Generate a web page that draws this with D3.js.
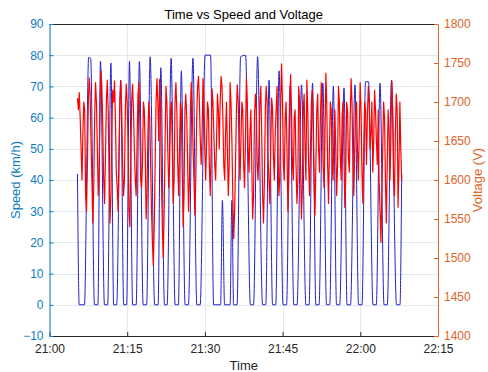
<!DOCTYPE html>
<html>
<head>
<meta charset="utf-8">
<script src="https://cdn.jsdelivr.net/npm/d3@7"></script>
<style>
  body { margin: 0; background: #fff; }
  svg { display: block; font-family: "Liberation Sans", Arial, sans-serif; }
</style>
</head>
<body>
<div id="chart"></div>
<script>
// speed key points: minutes after 21:00 and km/h
const speedMinutes = [
  5.40, 5.73, 6.75, 7.56, 7.95, 8.68, 9.34, 9.84, 10.61, 11.23, 11.85, 12.39,
  12.97, 13.74, 14.32, 14.89, 15.44, 16.05, 16.73, 17.36, 18.08, 18.75, 19.43,
  20.30, 20.97, 21.49, 22.19, 22.71, 23.48, 24.25, 24.89, 25.45, 26.18, 26.82,
  27.69, 28.44, 29.08, 30.04, 31.10, 31.68, 33.03, 33.38, 33.80, 34.86, 35.21,
  35.54, 36.21, 36.89, 37.85, 38.78, 39.40, 40.17, 41.13, 41.75, 42.39, 43.06,
  43.68, 44.32, 45.09, 45.77, 46.44, 47.16, 47.79, 48.66, 49.49, 50.11, 50.78,
  51.42, 52.04, 52.77, 53.48, 54.10, 54.80, 55.41, 56.03, 56.86, 57.44, 58.11,
  58.98, 59.66, 60.33, 61.01, 61.59, 62.45, 63.09, 63.81, 64.58, 65.21, 66.02,
  66.99, 67.66, 67.99
];
const speedKmh = [
  42, 0, 0, 79.3, 79, 0, 0, 78, 0, 0, 77.5, 0,
  0, 72, 0, 0, 78, 0, 0, 78, 0, 0, 79.5,
  0, 0, 76, 0, 0, 79, 0, 0, 75, 0, 0,
  79, 0, 0, 80, 80, 0, 0, 33.5, 0, 0, 33.5,
  0, 0, 79.5, 80, 0, 0, 79.5, 0, 0, 72, 0,
  0, 75, 0, 0, 70, 0, 0, 70.5, 0, 0, 71,
  0, 0, 71, 0, 0, 70, 0, 0, 69.5, 0, 0,
  70.5, 0, 0, 71.5, 71.5, 0, 0, 71, 0, 0, 72,
  0, 0, 42
];

// voltage samples, evenly spaced between voltStart and voltEnd (minutes after 21:00)
const voltStart = 5.40;
const voltEnd = 67.99;
const voltage = [
  1705, 1690, 1712, 1680, 1640, 1600, 1660, 1700, 1690, 1580, 1560, 1620, 1700, 1731, 1710, 1650, 1600, 1545, 1590, 1680,
  1725, 1700, 1640, 1580, 1610, 1690, 1740, 1720, 1670, 1600, 1570, 1630, 1700, 1728, 1690, 1610, 1545, 1580, 1660, 1715,
  1700, 1727, 1680, 1610, 1590, 1560, 1640, 1700, 1727, 1690, 1620, 1580, 1600, 1690, 1723, 1700, 1650, 1560, 1540, 1620,
  1700, 1723, 1690, 1640, 1600, 1580, 1650, 1710, 1725, 1680, 1600, 1590, 1620, 1700, 1690, 1640, 1550, 1580, 1660, 1700,
  1680, 1620, 1560, 1520, 1490, 1540, 1620, 1700, 1730, 1700, 1650, 1729, 1690, 1600, 1540, 1500, 1560, 1650, 1720, 1700,
  1640, 1590, 1620, 1690, 1700, 1640, 1570, 1600, 1700, 1725, 1690, 1620, 1580, 1640, 1700, 1690, 1610, 1540, 1580, 1690,
  1710, 1680, 1620, 1560, 1600, 1690, 1725, 1700, 1640, 1600, 1555, 1600, 1680, 1720, 1733, 1700, 1650, 1620, 1660, 1730,
  1710, 1640, 1600, 1650, 1700, 1690, 1620, 1580, 1640, 1717, 1700, 1660, 1620, 1600, 1650, 1710, 1690, 1640, 1700, 1733,
  1720, 1680, 1620, 1600, 1660, 1700, 1640, 1580, 1620, 1725, 1700, 1650, 1580, 1525, 1560, 1620, 1690, 1722, 1700, 1640,
  1600, 1650, 1700, 1690, 1620, 1590, 1650, 1730, 1700, 1640, 1610, 1660, 1690, 1620, 1550, 1580, 1680, 1710, 1690, 1620,
  1600, 1650, 1700, 1720, 1660, 1580, 1545, 1600, 1690, 1720, 1700, 1630, 1600, 1570, 1640, 1705, 1690, 1630, 1600, 1660,
  1690, 1720, 1640, 1580, 1600, 1700, 1749, 1700, 1620, 1600, 1680, 1700, 1640, 1560, 1600, 1700, 1735, 1690, 1620, 1600,
  1680, 1690, 1620, 1570, 1600, 1720, 1700, 1620, 1550, 1590, 1690, 1710, 1640, 1600, 1728, 1690, 1620, 1580, 1640, 1700,
  1715, 1660, 1600, 1555, 1620, 1690, 1710, 1640, 1610, 1680, 1725, 1690, 1620, 1590, 1650, 1737, 1700, 1620, 1570, 1640,
  1700, 1690, 1620, 1600, 1660, 1690, 1640, 1580, 1620, 1720, 1700, 1630, 1600, 1680, 1700, 1640, 1565, 1600, 1700, 1690,
  1630, 1610, 1680, 1730, 1700, 1620, 1580, 1640, 1690, 1700, 1640, 1600, 1660, 1725, 1690, 1610, 1570, 1640, 1700, 1690,
  1620, 1680, 1720, 1700, 1640, 1660, 1700, 1610, 1650, 1715, 1690, 1650, 1620, 1690, 1600, 1560, 1520, 1580, 1640, 1700,
  1680, 1600, 1545, 1620, 1690, 1660, 1600, 1650, 1727, 1690, 1600, 1580, 1660, 1710, 1690, 1565, 1620, 1700, 1640, 1600
];

const timeTicks = ['21:00', '21:15', '21:30', '21:45', '22:00', '22:15'];
const speedTicks = [-10, 0, 10, 20, 30, 40, 50, 60, 70, 80, 90];
const voltTicks = [1400, 1450, 1500, 1550, 1600, 1650, 1700, 1750, 1800];

const leftColor = '#0a7cc4';
const rightColor = '#e0641f';

const base = new Date(2020, 0, 1, 21, 0, 0);
const atMinute = m => new Date(base.getTime() + m * 60000);
const parseTick = s => {
    const [h, m] = s.split(':').map(Number);
    return new Date(2020, 0, 1, h, m, 0);
};

const speedData = speedMinutes.map((m, i) => ({ t: atMinute(m), v: speedKmh[i] }));
const voltStep = (voltEnd - voltStart) / (voltage.length - 1);
const voltData = voltage.map((v, i) => ({ t: atMinute(voltStart + i * voltStep), v }));

const W = 488, H = 372;
const margin = { top: 24, right: 50, bottom: 36, left: 49.5 };

const svg = d3.select('#chart').append('svg')
    .attr('width', W)
    .attr('height', H);

const x = d3.scaleTime()
    .domain([parseTick(timeTicks[0]), parseTick(timeTicks[timeTicks.length - 1])])
    .range([margin.left, W - margin.right]);

const yL = d3.scaleLinear().domain([-10, 90]).range([H - margin.bottom, margin.top]);
const yR = d3.scaleLinear().domain([1400, 1800]).range([H - margin.bottom, margin.top]);

// grid
const grid = svg.append('g').attr('stroke', '#e4e9ee').attr('stroke-width', 1);
grid.selectAll('.hg')
    .data(speedTicks)
    .join('line')
    .attr('x1', margin.left).attr('x2', W - margin.right)
    .attr('y1', d => Math.round(yL(d)) + 0.5).attr('y2', d => Math.round(yL(d)) + 0.5);
grid.selectAll('.vg')
    .data(timeTicks.map(parseTick))
    .join('line')
    .attr('y1', margin.top).attr('y2', H - margin.bottom)
    .attr('x1', d => Math.round(x(d)) + 0.5).attr('x2', d => Math.round(x(d)) + 0.5);

// lines
svg.append('clipPath').attr('id', 'plot-clip')
    .append('rect')
    .attr('x', margin.left).attr('y', margin.top)
    .attr('width', W - margin.left - margin.right)
    .attr('height', H - margin.top - margin.bottom);

const plot = svg.append('g').attr('clip-path', 'url(#plot-clip)');

plot.append('path')
    .datum(speedData)
    .attr('fill', 'none')
    .attr('stroke', '#2222cc')
    .attr('stroke-width', 1)
    .attr('d', d3.line().x(d => x(d.t)).y(d => yL(d.v)).curve(d3.curveMonotoneX));

plot.append('path')
    .datum(voltData)
    .attr('fill', 'none')
    .attr('stroke', '#ff0000')
    .attr('stroke-width', 1.2)
    .attr('stroke-linejoin', 'round')
    .attr('d', d3.line().x(d => x(d.t)).y(d => yR(d.v)));

// axes
const styleAxis = (g, color) => {
    g.attr('font-size', 12).attr('font-family', '"Liberation Sans", Arial, sans-serif');
    g.select('.domain').attr('stroke', color);
    g.selectAll('.tick line').attr('stroke', color);
    g.selectAll('.tick text').attr('fill', color);
};

const xAxis = svg.append('g')
    .attr('transform', `translate(0,${H - margin.bottom})`)
    .call(d3.axisBottom(x)
        .tickValues(timeTicks.map(parseTick))
        .tickFormat(d3.timeFormat('%H:%M'))
        .tickSizeInner(-4).tickSizeOuter(0).tickPadding(8));
styleAxis(xAxis, '#262626');

// top border
svg.append('line')
    .attr('x1', margin.left).attr('x2', W - margin.right)
    .attr('y1', margin.top + 0.5).attr('y2', margin.top + 0.5)
    .attr('stroke', '#262626');

const leftAxis = svg.append('g')
    .attr('transform', `translate(${margin.left},0)`)
    .call(d3.axisLeft(yL).tickValues(speedTicks).tickSizeInner(-4).tickSizeOuter(0).tickPadding(6));
styleAxis(leftAxis, leftColor);

const rightAxis = svg.append('g')
    .attr('transform', `translate(${W - margin.right},0)`)
    .call(d3.axisRight(yR).tickValues(voltTicks).tickFormat(d3.format('d'))
        .tickSizeInner(-4).tickSizeOuter(0).tickPadding(6));
styleAxis(rightAxis, rightColor);

// labels
svg.append('text')
    .attr('x', (margin.left + W - margin.right) / 2)
    .attr('y', 19)
    .attr('text-anchor', 'middle')
    .attr('font-size', 13)
    .attr('fill', '#000')
    .text('Time vs Speed and Voltage');

svg.append('text')
    .attr('x', (margin.left + W - margin.right) / 2)
    .attr('y', 370)
    .attr('text-anchor', 'middle')
    .attr('font-size', 13)
    .attr('fill', '#262626')
    .text('Time');

svg.append('text')
    .attr('transform', `translate(20,${(margin.top + H - margin.bottom) / 2}) rotate(-90)`)
    .attr('text-anchor', 'middle')
    .attr('font-size', 13)
    .attr('fill', leftColor)
    .text('Speed (km/h)');

svg.append('text')
    .attr('transform', `translate(482,${(margin.top + H - margin.bottom) / 2}) rotate(-90)`)
    .attr('text-anchor', 'middle')
    .attr('font-size', 13)
    .attr('fill', rightColor)
    .text('Voltage (V)');
</script>
</body>
</html>
